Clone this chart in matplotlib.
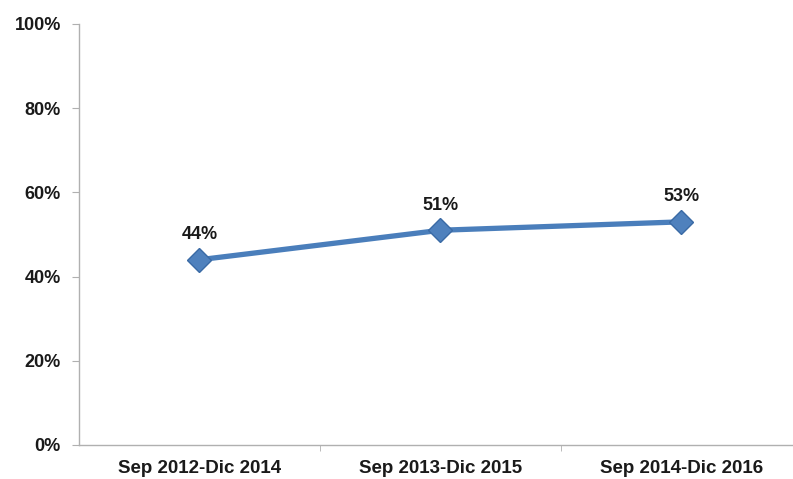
import numpy as np
import matplotlib
matplotlib.use('Agg')
import matplotlib.pyplot as plt
from matplotlib.ticker import FuncFormatter

plt.rcParams['font.family'] = ['Liberation Sans', 'DejaVu Sans']

periods = ['Sep 2012-Dic 2014', 'Sep 2013-Dic 2015', 'Sep 2014-Dic 2016']
share = np.array([44, 51, 53])
labels = ['44%', '51%', '53%']

fig = plt.figure(figsize=(7.93, 4.79), dpi=100)
ax = fig.add_axes([0.0996, 0.071, 0.9004, 0.879])

x = np.arange(len(periods))
ax.plot(x, share, color='#4a7ebb', lw=3.8, marker='D', markersize=12,
        markerfacecolor='#4f81bd', markeredgecolor='#3a6aa5', markeredgewidth=1,
        solid_capstyle='round')

for xi, yi, lab in zip(x, share, labels):
    ax.annotate(lab, (xi, yi), xytext=(0, 12), textcoords='offset points',
                ha='center', va='bottom', fontsize=13, fontweight='bold',
                color='#1a1a1a')

ax.set_xlim(-0.5, 2.463)
ax.set_ylim(0, 100)
ax.set_yticks(np.arange(0, 101, 20))
ax.yaxis.set_major_formatter(FuncFormatter(lambda v, p: '%d%%' % v))
ax.set_xticks(x)
ax.set_xticklabels(periods)
ax.set_xticks([0.5, 1.5], minor=True)

for s in ['top', 'right']:
    ax.spines[s].set_visible(False)
for s in ['left', 'bottom']:
    ax.spines[s].set_color('#b0b0b0')
    ax.spines[s].set_linewidth(1)

ax.tick_params(axis='y', length=5, color='#b0b0b0', labelsize=13,
               labelcolor='#1a1a1a', pad=8)
ax.tick_params(axis='x', which='major', length=0, labelsize=13.5,
               labelcolor='#1a1a1a', pad=11)
ax.tick_params(axis='x', which='minor', length=4, color='#b0b0b0')
for t in ax.get_xticklabels() + ax.get_yticklabels():
    t.set_fontweight('bold')

fig.savefig('out.png', dpi=100)
